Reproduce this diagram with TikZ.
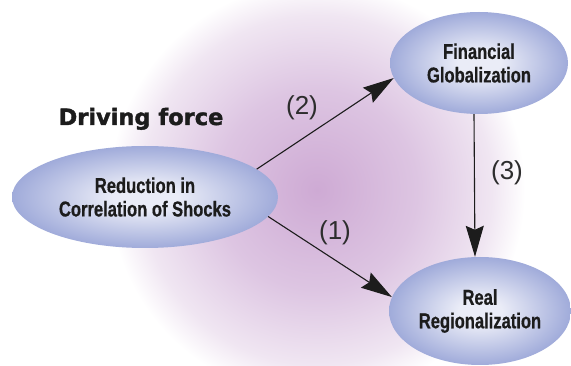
\documentclass[tikz,border=0pt]{standalone}
\usepackage{fontspec}
\usetikzlibrary{shapes.geometric,arrows.meta}
\newfontfamily\ovalfont{Liberation Sans}[FakeStretch=0.77,BoldFeatures={FakeStretch=0.77,FakeBold=0.6}]
\newfontfamily\labelfont{Liberation Sans}
\newfontfamily\headfont{DejaVu Sans}[BoldFeatures={FakeBold=1.6}]

\definecolor{glowA}{RGB}{206,170,212}
\definecolor{glowB}{RGB}{221,197,226}
\definecolor{glowC}{RGB}{240,230,242}
\definecolor{ovin}{RGB}{234,236,247}
\definecolor{ovout}{RGB}{160,171,218}
\definecolor{ink}{RGB}{28,28,28}
\definecolor{labelgray}{RGB}{45,45,45}

% soft purple halo behind the diagram
\pgfdeclareradialshading{halo}{\pgfpoint{0bp}{0bp}}{%
  color(0bp)=(glowA); color(12bp)=(glowB); color(21bp)=(glowC);
  color(25bp)=(white); color(50bp)=(white)}
% periwinkle ovals, light in the middle
\pgfdeclareradialshading{oval}{\pgfpoint{0bp}{0bp}}{%
  color(0bp)=(ovin); color(6bp)=(ovin); color(25bp)=(ovout); color(50bp)=(ovout)}

\tikzset{
  bubble/.style={ellipse, shading=oval, inner sep=0pt, align=center,
    text=ink, font=\ovalfont\bfseries\fontsize{21.5}{23.5}\selectfont},
  arr/.style={draw=ink, line width=1.1pt,
    -{Stealth[length=31pt,width=18pt,inset=4pt]}},
  steplabel/.style={text=labelgray, font=\labelfont\fontsize{26}{30}\selectfont},
  heading/.style={text=ink, font=\headfont\bfseries\fontsize{22.5}{26}\selectfont}
}

\begin{document}
\begin{tikzpicture}[x=1pt,y=-1pt]
  \useasboundingbox (0,0) rectangle (571,366);
  \clip (0,0) rectangle (571,366);
  \fill[white] (0,0) rectangle (571,366);
  \shade[shading=halo] (317,190) circle[radius=208];

  \node[bubble, minimum width=266pt, minimum height=102pt] (red) at (145,197)
    {Reduction in\\Correlation of Shocks};
  \node[bubble, minimum width=178pt, minimum height=102pt] (fin) at (479,63)
    {Financial\\Globalization};
  \node[bubble, minimum width=182pt, minimum height=108pt] (real) at (480,311)
    {Real\\Regionalization};

  \node[heading, anchor=base] (force) at (141,125) {Driving force};

  \draw[arr] (red.14.5) -- (fin.190);
  \draw[arr] (red.-9.6) -- (real.171);
  \draw[arr] ([xshift=-5pt]fin.south) -- ([xshift=-5pt]real.north);

  \node[steplabel] (l2) at (302,108) {(2)};
  \node[steplabel] (l3) at (507,173) {(3)};
  \node[steplabel] (l1) at (335,233) {(1)};
\end{tikzpicture}
\end{document}
